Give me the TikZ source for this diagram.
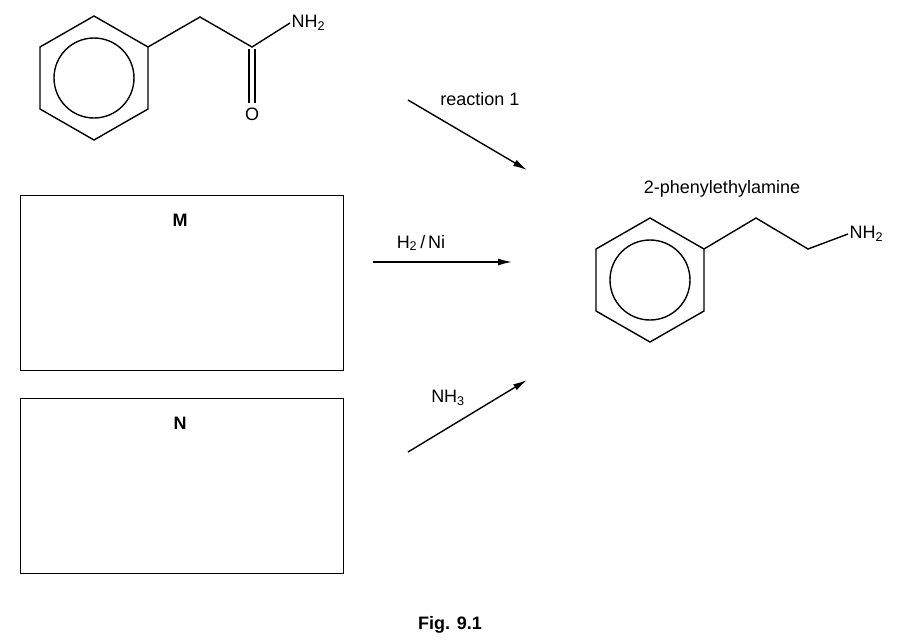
\documentclass[tikz,border=0pt]{standalone}
\usepackage{fontspec}
\setmainfont{Liberation Sans}
\usetikzlibrary{arrows.meta}
\begin{document}
\begin{tikzpicture}[x=1pt,y=-1pt,line width=1.4pt,
 lab/.style={font=\fontsize{18}{20}\selectfont,inner sep=1pt},
 blab/.style={font=\fontsize{18}{20}\selectfont\bfseries,inner sep=1pt},
 arr/.style={-{Latex[length=14pt,width=7pt]}}]
\useasboundingbox (0,0) rectangle (906,641);
% benzene 1
\draw (94,16) -- (148,47) -- (148,109) -- (94,140) -- (40,109) -- (40,47) -- cycle;
\draw (94,78) circle (40);
\coordinate (a1) at (148,47);
\coordinate (a2) at (200,17);
\coordinate (a3) at (252,47);
\node[lab,anchor=west] (nh2a) at (290,23) {NH\textsubscript{2}};
\node[lab] (o) at (252,114) {O};
\draw (a1) -- (a2) -- (a3) -- (nh2a.west);
\draw (249,49) -- (249,103);
\draw (255,49) -- (255,103);
% benzene 2
\draw (650,218) -- (704,249) -- (704,311) -- (650,342) -- (596,311) -- (596,249) -- cycle;
\draw (650,280) circle (40);
\coordinate (b1) at (704,249);
\coordinate (b2) at (756,218);
\coordinate (b3) at (808,249);
\node[lab,anchor=west] (nh2b) at (848,234) {NH\textsubscript{2}};
\draw (b1) -- (b2) -- (b3) -- (nh2b.west);
\node[lab] (title) at (722,189) {2-phenylethylamine};
% boxes
\node[draw,minimum width=323,minimum height=175,anchor=north west] (M) at (20,195) {};
\node[blab] (ml) at (180,220) {M};
\node[draw,minimum width=323,minimum height=175,anchor=north west] (N) at (20,398) {};
\node[blab] (nl) at (180,423) {N};
% arrows
\coordinate (r1s) at (408,100); \coordinate (r1e) at (527,170);
\draw[arr] (r1s) -- (r1e);
\node[lab] (r1) at (480,99) {reaction 1};
\coordinate (r2s) at (373,262); \coordinate (r2e) at (512,262);
\draw[arr] (r2s) -- (r2e);
\node[lab] (r2) at (421,243) {H\textsubscript{2}\,/\,Ni};
\coordinate (r3s) at (408,452); \coordinate (r3e) at (527,380);
\draw[arr] (r3s) -- (r3e);
\node[lab] (r3) at (448,398) {NH\textsubscript{3}};
\node[blab] (fig) at (450,625) {Fig. 9.1};
\end{tikzpicture}
\end{document}
